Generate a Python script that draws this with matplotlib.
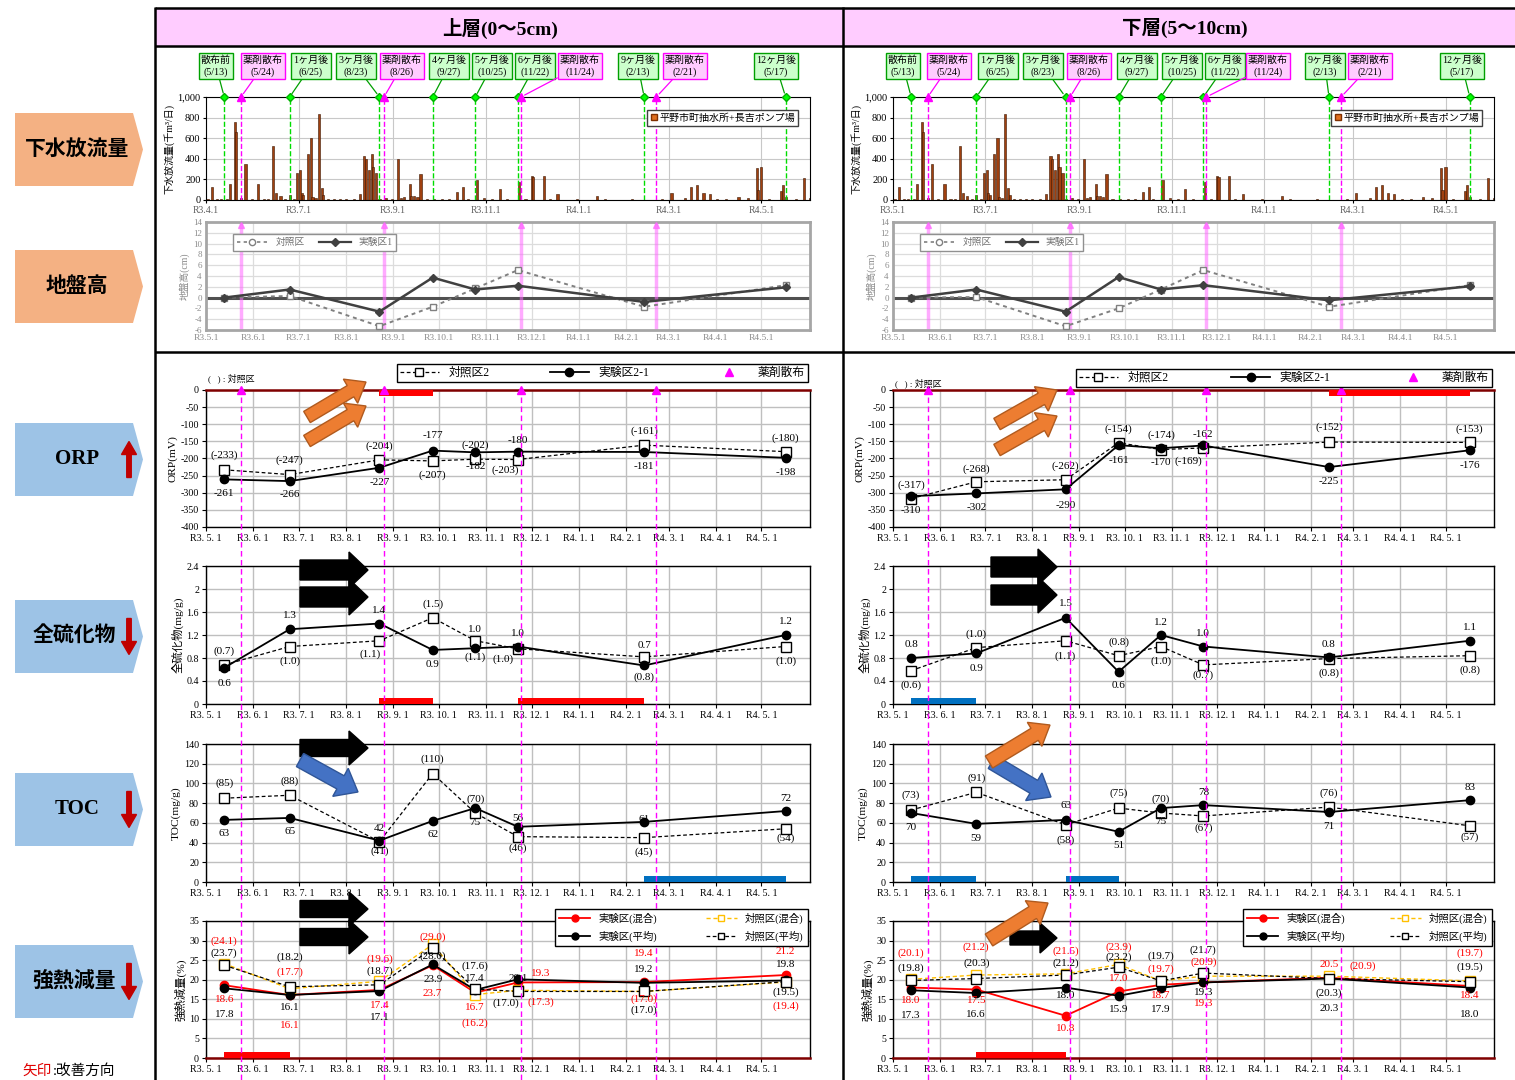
import numpy as np
import matplotlib
matplotlib.use("Agg")
import matplotlib.pyplot as plt
import matplotlib.dates as mdates
import matplotlib.transforms as mtransforms
from matplotlib.lines import Line2D
from matplotlib.patches import Polygon, FancyArrow, Rectangle

plt.rcParams["font.family"] = ["Liberation Serif", "Noto Sans CJK JP"]
plt.rcParams["axes.unicode_minus"] = False

# ---------------------------------------------------------------- data
sample_dates = ["2021-05-13", "2021-06-25", "2021-08-23", "2021-09-27",
                "2021-10-25", "2021-11-22", "2022-02-13", "2022-05-17"]
spray_dates = ["2021-05-24", "2021-08-26", "2021-11-24", "2022-02-21"]

event_names = ["散布前", "薬剤散布", "1ヶ月後", "3ヶ月後", "薬剤散布", "4ヶ月後",
               "5ヶ月後", "6ヶ月後", "薬剤散布", "9ヶ月後", "薬剤散布", "12ヶ月後"]
event_md = ["5/13", "5/24", "6/25", "8/23", "8/26", "9/27",
            "10/25", "11/22", "11/24", "2/13", "2/21", "5/17"]
event_dates = ["2021-05-13", "2021-05-24", "2021-06-25", "2021-08-23", "2021-08-26",
               "2021-09-27", "2021-10-25", "2021-11-22", "2021-11-24", "2022-02-13",
               "2022-02-21", "2022-05-17"]
event_spray = [False, True, False, False, True, False, False, False, True, False, True, False]

# daily sewage discharge (thousand m3/day), day counted from 2021-05-01
flow_start = "2021-05-01"
flow_day = [4, 16, 19, 20, 26, 34, 44, 46, 49, 55, 60, 62, 63, 64, 67, 69, 70, 74, 76, 77,
            101, 104, 105, 107, 109, 110, 112, 126, 130, 134, 135, 137, 139, 141, 165, 169,
            178, 193, 206, 214, 215, 222, 231, 257, 306, 319, 323, 327, 331, 350, 362, 363,
            365, 378, 379, 381, 393, 397,
            1, 7, 10, 14, 23, 30, 38, 41, 52, 58,
            72, 80, 84, 88, 92, 97, 114, 118, 122, 128,
            145, 150, 155, 160, 172, 183, 188, 198, 210, 226,
            244, 262, 280, 300, 315, 336, 342, 356, 370, 388]
flow_val = [130, 155, 760, 665, 350, 155, 525, 70, 40, 50, 260, 295, 65, 50, 450, 600, 30, 835,
            120, 50, 60, 430, 400, 290, 450, 325, 265, 395, 30, 155, 35, 35, 30, 255, 80, 130,
            190, 110, 175, 235, 225, 235, 55, 40, 70, 125, 150, 70, 60, 30, 310, 100,
            320, 90, 150, 30, 210, 15,
            8, 10, 6, 12, 15, 10, 8, 12, 10, 6,
            15, 8, 10, 6, 8, 10, 12, 20, 8, 15,
            10, 8, 6, 10, 12, 15, 10, 8, 6, 8,
            6, 10, 8, 12, 15, 10, 8, 20, 10, 8]

# ground height (cm)
ground_ctrl = {"up": [0.0, 0.3, -5.3, -1.7, 1.7, 5.1, -1.7, 2.3],
               "low": [0.0, 0.1, -5.3, -2.0, 1.5, 5.1, -1.7, 2.3]}
ground_exp = {"up": [0.0, 1.5, -2.6, 3.7, 1.5, 2.2, -0.8, 1.9],
              "low": [0.0, 1.5, -2.6, 3.8, 1.5, 2.3, -0.5, 2.1]}

# ORP (mV)
orp_exp = {"up": [-261, -266, -227, -177, -182, -180, -181, -198],
           "low": [-310, -302, -290, -161, -170, -162, -225, -176]}
orp_ctrl = {"up": [-233, -247, -204, -207, -202, -203, -161, -180],
            "low": [-317, -268, -262, -154, -174, -169, -152, -153]}

# total sulfide (mg/g)
sul_exp = {"up": [0.63, 1.3, 1.4, 0.94, 0.97, 1.0, 0.67, 1.2],
           "low": [0.8, 0.88, 1.5, 0.56, 1.2, 1.0, 0.81, 1.1]}
sul_ctrl = {"up": [0.68, 1.0, 1.1, 1.5, 1.1, 0.96, 0.82, 1.0],
            "low": [0.58, 0.98, 1.1, 0.84, 1.0, 0.68, 0.79, 0.84]}

# TOC (mg/g)
toc_exp = {"up": [63, 65, 42, 62, 75, 56, 61, 72],
           "low": [70, 59, 63, 51, 75, 78, 71, 83]}
toc_ctrl = {"up": [85, 88, 41, 110, 70, 46, 45, 54],
            "low": [73, 91, 58, 75, 70, 67, 76, 57]}

# ignition loss (%)
ig_exp_mix = {"up": [18.6, 16.1, 17.4, 23.7, 16.7, 19.3, 19.4, 21.2],
              "low": [18.0, 17.5, 10.8, 17.0, 18.7, 19.3, 20.5, 18.4]}
ig_exp_avg = {"up": [17.8, 16.1, 17.1, 23.9, 17.4, 20.1, 19.2, 19.8],
              "low": [17.3, 16.6, 18.0, 15.9, 17.9, 19.3, 20.3, 18.0]}
ig_ctrl_mix = {"up": [24.1, 17.7, 19.6, 29.0, 16.2, 17.3, 17.0, 19.4],
               "low": [20.1, 21.2, 21.5, 23.9, 19.7, 20.9, 20.9, 19.7]}
ig_ctrl_avg = {"up": [23.7, 18.2, 18.7, 28.0, 17.6, 17.0, 17.0, 19.5],
               "low": [19.8, 20.3, 21.2, 23.2, 19.7, 21.7, 20.3, 19.5]}

# highlighted periods (start, end, colour)
orp_spans = {"up": [("2021-08-23", "2021-09-27", "#FF0000")],
             "low": [("2022-02-13", "2022-05-17", "#FF0000")]}
sul_spans = {"up": [("2021-08-23", "2021-09-27", "#FF0000"), ("2021-11-22", "2022-02-13", "#FF0000")],
             "low": [("2021-05-13", "2021-06-25", "#0070C0")]}
toc_spans = {"up": [("2022-02-13", "2022-05-17", "#0070C0")],
             "low": [("2021-05-13", "2021-06-25", "#0070C0"), ("2021-08-23", "2021-09-27", "#0070C0")]}
ig_spans = {"up": [("2021-05-13", "2021-06-25", "#FF0000")],
            "low": [("2021-06-25", "2021-08-23", "#FF0000")]}

# ---------------------------------------------------------------- label placement (y in data units, dx in days)
orp_lab = {"up": dict(e_y=[-303, -306, -269, -133, -223, -146, -222, -240], e_dx=[0] * 8,
                      c_y=[-191, -204, -164, -248, -160, -235, -119, -141], c_dx=[0, 0, 0, 0, 0, -8, 0, 0]),
           "low": dict(e_y=[-353, -343, -336, -207, -212, -131, -267, -220], e_dx=[0] * 8,
                       c_y=[-277, -230, -222, -114, -133, -209, -110, -114], c_dx=[0, 0, 0, 0, 0, -10, 0, 0])}
sul_lab = {"up": dict(e_y=[0.36, 1.54, 1.62, 0.69, 1.29, 1.23, 1.01, 1.43], e_dx=[0] * 8,
                      c_y=[0.92, 0.75, 0.87, 1.73, 0.81, 0.78, 0.46, 0.74], c_dx=[0, 0, -6, 0, 0, -10, 0, 0]),
           "low": dict(e_y=[1.04, 0.62, 1.75, 0.32, 1.42, 1.22, 1.04, 1.33], e_dx=[0] * 8,
                       c_y=[0.32, 1.21, 0.83, 1.08, 0.75, 0.50, 0.54, 0.58], c_dx=[0] * 8)}
toc_lab = {"up": dict(e_y=[48.7, 51, 54, 47.7, 60.6, 64, 63.3, 84.5], e_dx=[0] * 8,
                      c_y=[100.5, 102, 31.7, 125, 84.5, 34, 30.7, 44.3], c_dx=[0] * 8),
           "low": dict(e_y=[55.3, 44.4, 77.8, 36.9, 61.4, 90.4, 56.3, 95.6], e_dx=[0] * 8,
                       c_y=[87.8, 105.8, 42.7, 90.4, 84.3, 54.6, 90.4, 45], c_dx=[0] * 8)}
ig_lab = {"up": dict(em_y=[14.9, 8.2, 13.4, 16.4, 12.8, 21.5, 26.7, 27.1], em_dx=[0, 0, 0, 0, 0, 15, 0, 0],
                     ea_y=[11.1, 13.0, 10.3, 20.0, 20.2, 20.2, 22.5, 23.8], ea_dx=[0] * 8,
                     cm_y=[29.9, 21.8, 25.2, 30.9, 9.0, 14.2, 14.9, 13.2], cm_dx=[0, 0, 0, 0, 0, 15, 0, 0],
                     ca_y=[26.9, 25.7, 22.3, 26.1, 23.5, 14.1, 12.2, 16.8], ca_dx=[0, 0, 0, 0, 0, -8, 0, 0]),
          "low": dict(em_y=[14.7, 14.7, 7.5, 20.2, 16.0, 14.0, 23.9, 16.0], em_dx=[0] * 8,
                      ea_y=[10.9, 11.1, 16.0, 12.5, 12.3, 16.7, 12.6, 11.1], ea_dx=[0] * 8,
                      cm_y=[26.8, 28.2, 27.3, 28.3, 22.8, 24.5, 23.4, 26.8], cm_dx=[0, 0, 0, 0, 0, 0, 22, 0],
                      ca_y=[22.9, 24.1, 24.1, 25.8, 26.0, 27.6, 16.6, 23.2], ca_dx=[0] * 8)}

# ---------------------------------------------------------------- figure set-up
W, H = 1515, 1080
fig = plt.figure(figsize=(W / 100, H / 100), dpi=100)
fig.patch.set_facecolor("white")


def dn(s):
    return mdates.date2num(np.array(s, dtype="datetime64[D]"))


xs = dn(sample_dates)
X0, X1 = dn("2021-05-01"), dn("2022-06-02")
month_x = dn(["2021-%02d-01" % m for m in range(5, 13)] + ["2022-%02d-01" % m for m in range(1, 6)])
month_lab = ["R3.%d.1" % m for m in range(5, 13)] + ["R4.%d.1" % m for m in range(1, 6)]
month_lab_sp = ["R3. %d. 1" % m for m in range(5, 13)] + ["R4. %d. 1" % m for m in range(1, 6)]
flow_x = dn(flow_start) + np.array(flow_day)
flow_ticks = dn(["2021-05-01", "2021-07-01", "2021-09-01", "2021-11-01",
                 "2022-01-01", "2022-03-01", "2022-05-01"])
flow_tick_lab = {"up": ["R3.4.1", "R3.7.1", "R3.9.1", "R3.11.1", "R4.1.1", "R4.3.1", "R4.5.1"],
                 "low": ["R3.5.1", "R3.7.1", "R3.9.1", "R3.11.1", "R4.1.1", "R4.3.1", "R4.5.1"]}


def px_axes(l, t, r, b, **kw):
    return fig.add_axes([l / W, 1 - b / H, (r - l) / W, (b - t) / H], **kw)


SIDES = {"up": (206, 810), "low": (893, 1494)}
FLOW_TB = (97, 200)
GROUND_TB = (222, 330)
ORP_TB = (390, 527)
SUL_TB = (566, 704)
TOC_TB = (744, 882)
IG_TB = (921, 1058)

box_cx = {"up": [216, 263, 311, 356, 402, 449, 492, 535, 580, 638, 685, 776],
          "low": [903, 949, 998, 1043, 1089, 1137, 1182, 1225, 1268, 1325, 1370, 1462]}

MAG = "#FF00FF"
GRN = "#00DD00"
GRID = "#BFBFBF"
LBL = 8


def style_bottom(ax, ylim, yticks, ytl, ylabel):
    ax.set_xlim(X0, X1)
    ax.set_ylim(*ylim)
    ax.set_yticks(yticks)
    ax.set_yticklabels(ytl, fontsize=7.2)
    ax.set_xticks(month_x)
    ax.set_xticklabels(month_lab_sp, fontsize=7.2)
    ax.grid(True, color=GRID, lw=1.0)
    ax.set_axisbelow(True)
    ax.tick_params(length=3, pad=2, width=0.8)
    for s in ax.spines.values():
        s.set_linewidth(1.0)
    ax.set_ylabel(ylabel, fontsize=8.2, labelpad=2)


def put_labels(ax, vals, ys, dxs, fmt, color="k", size=LBL):
    for x, v, y, d in zip(xs, vals, ys, dxs):
        ax.text(x + d, y, fmt(v), ha="center", va="center", fontsize=size, color=color, zorder=6)


def plot_pair(ax, exp, ctrl):
    ax.plot(xs, ctrl, color="k", ls="--", dashes=(3, 2), lw=0.9, marker="s", ms=6.5,
            mfc="white", mec="k", mew=1.0, zorder=4)
    ax.plot(xs, exp, color="k", ls="-", lw=1.3, marker="o", ms=6, zorder=5)


def spans(ax, lst, top=False):
    for a, b, c in lst:
        if top:
            ax.axvspan(dn(a), dn(b), ymin=0.955, ymax=1.0, color=c, lw=0, zorder=3)
        else:
            ax.axvspan(dn(a), dn(b), ymin=0.0, ymax=0.045, color=c, lw=0, zorder=3)


for side, (L, R) in SIDES.items():
    # ---------------- sewage discharge
    ax = px_axes(L, FLOW_TB[0], R, FLOW_TB[1])
    ax.bar(flow_x, flow_val, width=1.4, color="#A0400F", edgecolor="#3A1500", lw=0.4, zorder=2)
    ax.set_xlim(X0, X1)
    ax.set_ylim(0, 1000)
    ax.set_yticks(range(0, 1001, 200))
    ax.set_yticklabels(["0", "200", "400", "600", "800", "1,000"], fontsize=7.5)
    ax.set_xticks(flow_ticks)
    ax.set_xticklabels(flow_tick_lab[side], fontsize=7, color="#606060")
    ax.grid(True, color="#C8C8C8", lw=0.8)
    ax.set_axisbelow(True)
    ax.tick_params(length=2, pad=2)
    ax.set_ylabel("下水放流量(千m³/日)", fontsize=7.2, labelpad=2)
    for nm, md, dstr, sp, cx in zip(event_names, event_md, event_dates, event_spray, box_cx[side]):
        x = dn(dstr)
        col = MAG if sp else GRN
        ax.axvline(x, color=col, ls="--", lw=1.0, zorder=3)
        if sp:
            ax.plot(x, 1000, marker="^", color=MAG, ms=6, clip_on=False, zorder=6)
            fc, ec = "#FFCCFF", "#FF00FF"
        else:
            ax.plot(x, 1000, marker="D", color="#00FF00", mec="#00B000", ms=4.5, clip_on=False, zorder=6)
            fc, ec = "#CCFFCC", "#00A000"
        ax.annotate("%s\n(%s)" % (nm, md), xy=(x, 1000), xycoords="data",
                    xytext=(cx, H - 66), textcoords="figure pixels", ha="center", va="center",
                    fontsize=7.2, linespacing=1.35, annotation_clip=False,
                    bbox=dict(boxstyle="square,pad=0.22", fc=fc, ec=ec, lw=1.0),
                    arrowprops=dict(arrowstyle="-", color=ec, lw=0.9, shrinkA=0, shrinkB=3))
    ax.legend([Line2D([], [], ls="none", marker="s", mfc="#E07020", mec="#803000", ms=5)],
              ["平野市町抽水所+長吉ポンプ場"], loc="upper right",
              bbox_to_anchor=(1 - 7 / (R - L), 1 - 8 / 103), fontsize=7.2, fancybox=False,
              edgecolor="#404040", framealpha=1, handlelength=0.7, handletextpad=0.2,
              borderpad=0.3)

    # ---------------- ground height
    ax = px_axes(L, GROUND_TB[0], R, GROUND_TB[1])
    ax.set_xlim(X0, X1)
    ax.set_ylim(-6, 14)
    ax.set_yticks(range(-6, 15, 2))
    ax.set_yticklabels([str(v) for v in range(-6, 15, 2)], fontsize=6.5, color="#8C8C8C")
    ax.set_xticks(month_x)
    ax.set_xticklabels(month_lab, fontsize=6.8, color="#8C8C8C")
    ax.grid(True, color="#DCDCDC", lw=0.9)
    ax.set_axisbelow(True)
    ax.tick_params(length=0, pad=3)
    for s in ax.spines.values():
        s.set_color("#A6A6A6")
        s.set_linewidth(2.0)
    ax.axhline(0, color="#505050", lw=2.2, zorder=2)
    for d in spray_dates:
        ax.axvline(dn(d), color="#FF66FF", lw=2.5, alpha=0.55, zorder=2)
        ax.plot(dn(d), 13.4, marker="^", color="#FF66FF", ms=4, alpha=0.7, zorder=3)
    ax.plot(xs, ground_ctrl[side], color="#808080", ls="--", dashes=(2, 2), lw=1.4, marker="s",
            ms=5, mfc="white", mec="#808080", zorder=4)
    ax.plot(xs, ground_exp[side], color="#404040", ls="-", lw=1.8, marker="D", ms=4.5, zorder=5)
    ax.set_ylabel("地盤高(cm)", fontsize=7, color="#8C8C8C", labelpad=2)
    gh = [Line2D([], [], color="#808080", ls="--", dashes=(2, 2), lw=1.2, marker="o", ms=4.5,
                 mfc="white", mec="#808080"),
          Line2D([], [], color="#404040", ls="-", lw=1.6, marker="D", ms=4)]
    lg = ax.legend(gh, ["対照区", "実験区1"], loc="upper left", bbox_to_anchor=(22 / (R - L), 0.93),
                   ncol=2, fontsize=7, fancybox=False, edgecolor="#909090", framealpha=1,
                   handlelength=3.2, columnspacing=1.5, borderpad=0.4)
    for t in lg.get_texts():
        t.set_color("#707070")

    # ---------------- ORP
    ax = px_axes(L, ORP_TB[0], R, ORP_TB[1])
    style_bottom(ax, (-400, 0), range(-400, 1, 50), [str(v) for v in range(-400, 1, 50)], "ORP(mV)")
    ax.spines["top"].set_color("#800000")
    ax.spines["top"].set_linewidth(1.8)
    spans(ax, orp_spans[side], top=True)
    plot_pair(ax, orp_exp[side], orp_ctrl[side])
    lb = orp_lab[side]
    put_labels(ax, orp_exp[side], lb["e_y"], lb["e_dx"], lambda v: "%d" % v)
    put_labels(ax, orp_ctrl[side], lb["c_y"], lb["c_dx"], lambda v: "(%d)" % v)
    for d in spray_dates:
        ax.plot(dn(d), 0, marker="^", color=MAG, ms=6, clip_on=False, zorder=7)
    trans = mtransforms.blended_transform_factory(ax.transData, fig.transFigure)
    for d in spray_dates:
        fig.add_artist(Line2D([dn(d), dn(d)], [1 - 388 / H, 0.0], transform=trans, color=MAG,
                              ls="--", dashes=(4, 2.5), lw=1.0, zorder=1))
    orp_handles = [Line2D([], [], color="k", ls="--", dashes=(3, 2), lw=0.9, marker="s", ms=6,
                          mfc="white", mec="k"),
                   Line2D([], [], color="k", ls="-", lw=1.3, marker="o", ms=6),
                   Line2D([], [], ls="none", marker="^", color=MAG, ms=6)]
    lx0, ly0, lx1, ly1 = (L + 191, 363, R - 2, 382) if side == "up" else (L + 183, 367, R - 2, 387)
    lg = fig.legend(orp_handles, ["対照区2", "実験区2-1", "薬剤散布"], loc="lower left",
                    bbox_to_anchor=(lx0 / W, 1 - ly1 / H, (lx1 - lx0) / W, (ly1 - ly0) / H),
                    mode="expand", ncol=3, borderaxespad=0, fancybox=False, edgecolor="k",
                    framealpha=1, fontsize=8.5, handlelength=3.3, borderpad=0.25)
    lg.get_frame().set_linewidth(1.0)
    fig.text((L + 2) / W, 1 - (ly1 - 4) / H, "(   ) : 対照区", fontsize=6.5, va="center")

    # ---------------- total sulfide
    ax = px_axes(L, SUL_TB[0], R, SUL_TB[1])
    style_bottom(ax, (0, 2.4), np.arange(0, 2.41, 0.4), ["0", "0.4", "0.8", "1.2", "1.6", "2", "2.4"],
                 "全硫化物(mg/g)")
    spans(ax, sul_spans[side])
    plot_pair(ax, sul_exp[side], sul_ctrl[side])
    lb = sul_lab[side]
    put_labels(ax, sul_exp[side], lb["e_y"], lb["e_dx"], lambda v: "%.1f" % v)
    put_labels(ax, sul_ctrl[side], lb["c_y"], lb["c_dx"], lambda v: "(%.1f)" % v)

    # ---------------- TOC
    ax = px_axes(L, TOC_TB[0], R, TOC_TB[1])
    style_bottom(ax, (0, 140), range(0, 141, 20), [str(v) for v in range(0, 141, 20)], "TOC(mg/g)")
    spans(ax, toc_spans[side])
    plot_pair(ax, toc_exp[side], toc_ctrl[side])
    lb = toc_lab[side]
    put_labels(ax, toc_exp[side], lb["e_y"], lb["e_dx"], lambda v: "%d" % v)
    put_labels(ax, toc_ctrl[side], lb["c_y"], lb["c_dx"], lambda v: "(%d)" % v)

    # ---------------- ignition loss
    ax = px_axes(L, IG_TB[0], R, IG_TB[1])
    style_bottom(ax, (0, 35), range(0, 36, 5), [str(v) for v in range(0, 36, 5)], "強熱減量(%)")
    ax.spines["bottom"].set_color("#800000")
    ax.spines["bottom"].set_linewidth(1.8)
    spans(ax, ig_spans[side])
    ax.plot(xs, ig_exp_mix[side], color="#FF0000", lw=1.3, marker="o", ms=6, zorder=4)
    ax.plot(xs, ig_ctrl_mix[side], color="#FFC000", ls="--", dashes=(3, 2), lw=1.0, marker="s",
            ms=6.5, mfc="white", mec="#FFC000", zorder=4)
    ax.plot(xs, ig_exp_avg[side], color="k", lw=1.3, marker="o", ms=6, zorder=5)
    ax.plot(xs, ig_ctrl_avg[side], color="k", ls="--", dashes=(3, 2), lw=0.9, marker="s",
            ms=6.5, mfc="white", mec="k", zorder=5)
    lb = ig_lab[side]
    put_labels(ax, ig_exp_mix[side], lb["em_y"], lb["em_dx"], lambda v: "%.1f" % v, "#FF0000")
    put_labels(ax, ig_exp_avg[side], lb["ea_y"], lb["ea_dx"], lambda v: "%.1f" % v)
    put_labels(ax, ig_ctrl_mix[side], lb["cm_y"], lb["cm_dx"], lambda v: "(%.1f)" % v, "#FF0000")
    put_labels(ax, ig_ctrl_avg[side], lb["ca_y"], lb["ca_dx"], lambda v: "(%.1f)" % v)
    ig_handles = [Line2D([], [], color="#FF0000", lw=1.3, marker="o", ms=5),
                  Line2D([], [], color="k", lw=1.3, marker="o", ms=5),
                  Line2D([], [], color="#FFC000", ls="--", dashes=(3, 2), lw=1.0, marker="s", ms=5,
                         mfc="white", mec="#FFC000"),
                  Line2D([], [], color="k", ls="--", dashes=(3, 2), lw=0.9, marker="s", ms=5,
                         mfc="white", mec="k")]
    gx0 = L + 349 if side == "up" else L + 350
    lg = fig.legend(ig_handles, ["実験区(混合)", "実験区(平均)", "対照区(混合)", "対照区(平均)"],
                    loc="lower left", bbox_to_anchor=(gx0 / W, 1 - 946 / H, (R - 2 - gx0) / W, 43 / H),
                    mode="expand", ncol=2, borderaxespad=0, fancybox=False, edgecolor="k",
                    framealpha=1, fontsize=7.5, handlelength=3.0, borderpad=0.4, labelspacing=0.6)
    lg.get_frame().set_linewidth(1.0)

# ---------------------------------------------------------------- overlay: frame, headings, arrows
ov = fig.add_axes([0, 0, 1, 1], zorder=20)
ov.set_xlim(0, W)
ov.set_ylim(H, 0)
ov.axis("off")
ov.patch.set_alpha(0)

ov.add_patch(Rectangle((156, 8), W - 156, 38, fc="#FFCCFF", ec="none"))
for seg in [((155, 155), (7, H)), ((843, 843), (7, H)), ((155, W), (8, 8)),
            ((155, W), (46, 46)), ((155, W), (352, 352))]:
    ov.plot(seg[0], seg[1], color="k", lw=1.8, solid_capstyle="butt")
ov.text(500, 28, "上層(0～5cm)", ha="center", va="center", fontsize=14, fontweight="bold")
ov.text(1185, 28, "下層(5～10cm)", ha="center", va="center", fontsize=14, fontweight="bold")

# left-hand category tags
tags = [(113, 186, "#F4B183", "下水放流量", 77, None),
        (250, 323, "#F4B183", "地盤高", 77, None),
        (423, 496, "#9DC3E6", "ORP", 77, "up"),
        (600, 673, "#9DC3E6", "全硫化物", 74, "down"),
        (773, 846, "#9DC3E6", "TOC", 77, "down"),
        (945, 1018, "#9DC3E6", "強熱減量", 74, "down")]
for t, b, c, txt, tx, arr in tags:
    m = (t + b) / 2
    ov.add_patch(Polygon([(15, t), (133, t), (143, m), (133, b), (15, b)], closed=True, fc=c, ec="none"))
    ov.text(tx, m, txt, ha="center", va="center", fontsize=15, fontweight="bold")
    if arr == "up":
        ov.add_patch(FancyArrow(129, m + 18, 0, -36, width=4.5, head_width=15, head_length=13,
                                length_includes_head=True, fc="#C00000", ec="#C00000"))
    elif arr == "down":
        ov.add_patch(FancyArrow(129, m - 18, 0, 36, width=4.5, head_width=15, head_length=13,
                                length_includes_head=True, fc="#C00000", ec="#C00000"))
ov.text(22, 1071, "矢印", ha="left", va="center", fontsize=10.5, color="#E00000")
ov.text(53, 1071, ":改善方向", ha="left", va="center", fontsize=10.5)


def block_arrow(x0, y0, x1, y1, w, hw, hl, fc, ec):
    ov.add_patch(FancyArrow(x0, y0, x1 - x0, y1 - y0, width=w, head_width=hw, head_length=hl,
                            length_includes_head=True, fc=fc, ec=ec, lw=1.0))


ORG, ORG_E = "#ED7D31", "#B05A1E"
BLU, BLU_E = "#4472C4", "#2F5597"
BLK = "#000000"
# ORP: improving (upward)
block_arrow(307, 417, 366, 382, 13, 28, 18, ORG, ORG_E)
block_arrow(307, 441, 366, 406, 13, 28, 18, ORG, ORG_E)
block_arrow(997, 424, 1057, 390, 13, 28, 18, ORG, ORG_E)
block_arrow(997, 450, 1057, 416, 13, 28, 18, ORG, ORG_E)
# total sulfide: unchanged
block_arrow(300, 570, 368, 570, 20, 36, 19, BLK, BLK)
block_arrow(300, 597, 368, 597, 20, 36, 19, BLK, BLK)
block_arrow(991, 567, 1057, 567, 20, 36, 19, BLK, BLK)
block_arrow(991, 595, 1057, 595, 20, 36, 19, BLK, BLK)
# TOC
block_arrow(300, 748, 368, 748, 17, 34, 19, BLK, BLK)
block_arrow(300, 760, 358, 792, 15, 32, 20, BLU, BLU_E)
block_arrow(992, 762, 1051, 797, 15, 32, 20, BLU, BLU_E)
block_arrow(989, 762, 1050, 725, 14, 28, 18, ORG, ORG_E)
# ignition loss
block_arrow(300, 909, 368, 909, 17, 34, 19, BLK, BLK)
block_arrow(300, 937, 368, 937, 17, 34, 19, BLK, BLK)
block_arrow(1010, 938, 1057, 938, 14, 30, 17, BLK, BLK)
block_arrow(989, 940, 1048, 903, 14, 28, 18, ORG, ORG_E)

fig.savefig("out.png", dpi=100, facecolor="white")
